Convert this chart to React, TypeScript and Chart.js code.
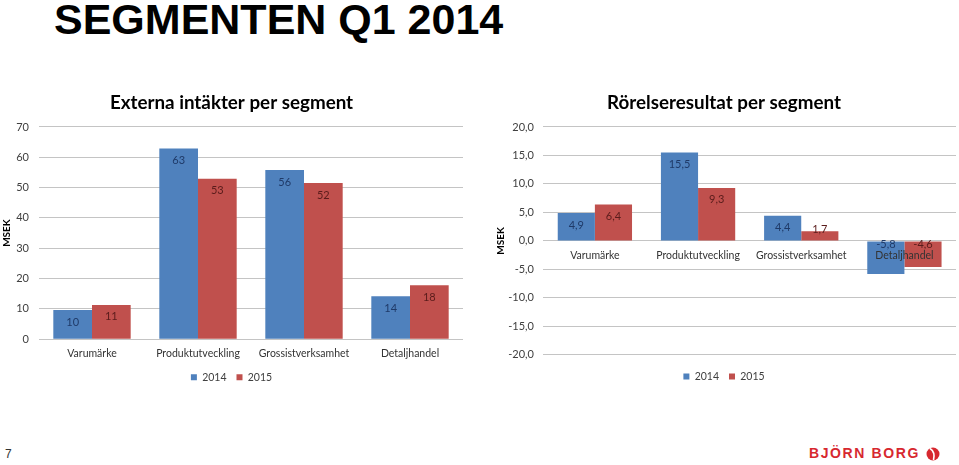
import React, { useEffect, useRef } from "react";
import { Chart, registerables } from "chart.js";

Chart.register(...registerables);

// ---------- data ----------
const categories = ["Varumärke", "Produktutveckling", "Grossistverksamhet", "Detaljhandel"];
const seriesNames = ["2014", "2015"];

const revenue2014 = [9.6, 62.9, 55.8, 14.2];
const revenue2015 = [11.3, 52.9, 51.5, 17.8];
const revenueLabels2014 = ["10", "63", "56", "14"];
const revenueLabels2015 = ["11", "53", "52", "18"];
const revenueTicks = [0, 10, 20, 30, 40, 50, 60, 70];

const result2014 = [4.9, 15.5, 4.4, -5.8];
const result2015 = [6.4, 9.3, 1.7, -4.6];
const resultTicks = [-20, -15, -10, -5, 0, 5, 10, 15, 20];

// ---------- style ----------
const FONT = "Lato, 'Open Sans', sans-serif";
const BLUE = "#4F81BD";
const RED = "#C0504D";
const LABEL_COLORS = ["#1F3A68", "#5A1C1B"];
const GRID = "#c4c4c4";
const AXIS_TEXT = "#404040";

const fmtComma = (v: number) => v.toFixed(1).replace(".", ",");

function barLabelPlugin(labels: string[][]) {
  return {
    id: "barLabels",
    afterDatasetsDraw(chart: any) {
      const ctx = chart.ctx;
      const zero = chart.scales.y.getPixelForValue(0);
      ctx.save();
      ctx.font = `11px ${FONT}`;
      ctx.textAlign = "center";
      ctx.textBaseline = "middle";
      chart.data.datasets.forEach((ds: any, di: number) => {
        const meta = chart.getDatasetMeta(di);
        ctx.fillStyle = LABEL_COLORS[di];
        meta.data.forEach((bar: any, i: number) => {
          const v = ds.data[i];
          const y = v >= 0 ? Math.min(bar.y + 12, zero - 11) : zero + 4;
          ctx.fillText(labels[di][i], bar.x, y);
        });
      });
      ctx.restore();
    },
  };
}

function makeConfig(opts: {
  title: string;
  d1: number[];
  d2: number[];
  labels: string[][];
  ticks: number[];
  min: number;
  max: number;
  tickFmt: (v: number) => string;
  padding: any;
  yWidth: number;
  yTickPad: number;
  yTitlePad: number;
  xPosition: any;
  xHeight: number;
  legendSpacer: number;
  catPct: number;
}) {
  return {
    type: "bar" as const,
    data: {
      labels: categories,
      datasets: [
        { label: seriesNames[0], data: opts.d1, backgroundColor: BLUE, borderWidth: 0 },
        { label: seriesNames[1], data: opts.d2, backgroundColor: RED, borderWidth: 0 },
      ],
    },
    options: {
      responsive: false,
      animation: false,
      layout: { padding: opts.padding },
      datasets: { bar: { categoryPercentage: opts.catPct, barPercentage: 1 } },
      plugins: {
        tooltip: { enabled: false },
        title: {
          display: true,
          text: opts.title,
          color: "#000",
          font: { family: FONT, size: 18.8, weight: "bold", lineHeight: 1.2 },
          padding: { top: 0, bottom: 12.7 },
        },
        legend: {
          position: "bottom",
          labels: {
            boxWidth: 6,
            boxHeight: 6,
            padding: 10,
            color: AXIS_TEXT,
            font: { family: FONT, size: 10.5 },
          },
          title: {
            display: opts.legendSpacer > 0,
            text: "",
            font: { size: 1, lineHeight: 1 },
            padding: { top: 0, bottom: Math.max(opts.legendSpacer - 1, 0) },
          },
        },
      },
      scales: {
        x: {
          position: opts.xPosition,
          grid: { display: false, drawTicks: false },
          border: { display: false },
          ticks: {
            z: 1,
            autoSkip: false,
            color: "#333333",
            font: { family: FONT, size: 10.5 },
            padding: 8,
            maxRotation: 0,
          },
          afterFit: (s: any) => {
            if (opts.xHeight > 0) s.height = opts.xHeight;
          },
        },
        y: {
          min: opts.min,
          max: opts.max,
          grid: { color: GRID, lineWidth: 1, drawTicks: false },
          border: { display: false },
          afterBuildTicks: (s: any) => {
            s.ticks = opts.ticks.map((v) => ({ value: v }));
          },
          ticks: {
            color: AXIS_TEXT,
            font: { family: FONT, size: 11 },
            padding: opts.yTickPad,
            callback: (v: any) => opts.tickFmt(Number(v)),
          },
          title: {
            display: true,
            text: "MSEK",
            color: "#000",
            font: { family: FONT, size: 10, weight: "bold", lineHeight: 1.2 },
            padding: { top: opts.yTitlePad, bottom: 0 },
          },
          afterFit: (s: any) => {
            s.width = opts.yWidth;
          },
        },
      },
    },
    plugins: [barLabelPlugin(opts.labels)],
  };
}

function ChartCanvas({ config, width, height, left, top }: any) {
  const ref = useRef<HTMLCanvasElement | null>(null);
  useEffect(() => {
    if (!ref.current) return;
    const chart = new Chart(ref.current, config as any);
    return () => chart.destroy();
  }, []);
  return (
    <canvas
      ref={ref}
      width={width}
      height={height}
      style={{ position: "absolute", left, top, width, height }}
    />
  );
}

export default function App() {
  const leftConfig = makeConfig({
    title: "Externa intäkter per segment",
    d1: revenue2014,
    d2: revenue2015,
    labels: [revenueLabels2014, revenueLabels2015],
    ticks: revenueTicks,
    min: 0,
    max: 70,
    tickFmt: (v) => String(v),
    padding: { top: 11.7, left: 0, right: 17, bottom: 7.5 },
    yWidth: 39,
    yTickPad: 10,
    yTitlePad: 1,
    xPosition: "bottom",
    xHeight: 22.8,
    legendSpacer: 0,
    catPct: 0.73,
  });
  const rightConfig = makeConfig({
    title: "Rörelseresultat per segment",
    d1: result2014,
    d2: result2015,
    labels: [result2014.map(fmtComma), result2015.map(fmtComma)],
    ticks: resultTicks,
    min: -20,
    max: 20,
    tickFmt: fmtComma,
    padding: { top: 11.7, left: 12, right: 3, bottom: 8.3 },
    yWidth: 51.3,
    yTickPad: 9.3,
    yTitlePad: 2.7,
    xPosition: { y: 0 },
    xHeight: 0,
    legendSpacer: 6.4,
    catPct: 0.72,
  });

  return (
    <div
      style={{
        position: "absolute",
        left: 0,
        top: 0,
        width: 959,
        height: 465,
        background: "#fff",
        overflow: "hidden",
      }}
    >
      <div
        style={{
          position: "absolute",
          left: 54,
          top: -2,
          fontFamily: "'Liberation Sans', Arial, sans-serif",
          fontWeight: "bold",
          fontSize: 43,
          lineHeight: "43px",
          color: "#000",
          whiteSpace: "nowrap",
        }}
      >
        SEGMENTEN Q1 2014
      </div>
      <ChartCanvas config={leftConfig} width={480} height={320} left={0} top={80} />
      <ChartCanvas config={rightConfig} width={479} height={320} left={480} top={80} />
      <div
        style={{
          position: "absolute",
          left: 5,
          top: 448,
          fontFamily: "'Liberation Sans', Arial, sans-serif",
          fontSize: 12,
          lineHeight: "12px",
          color: "#333",
        }}
      >
        7
      </div>
      <div
        style={{
          position: "absolute",
          left: 809,
          top: 446,
          fontFamily: "'Liberation Sans', Arial, sans-serif",
          fontWeight: "bold",
          fontSize: 14,
          lineHeight: "14px",
          letterSpacing: 1.6,
          color: "#D7282F",
          whiteSpace: "nowrap",
        }}
      >
        BJÖRN BORG
      </div>
      <svg
        width={14}
        height={14}
        viewBox="0 0 14 14"
        style={{ position: "absolute", left: 926, top: 447 }}
      >
        <circle cx={7} cy={7} r={6.5} fill="#D7282F" />
        <path d="M4 1.5 Q9.5 5 7.5 13" stroke="#fff" strokeWidth={1.6} fill="none" />
      </svg>
    </div>
  );
}
